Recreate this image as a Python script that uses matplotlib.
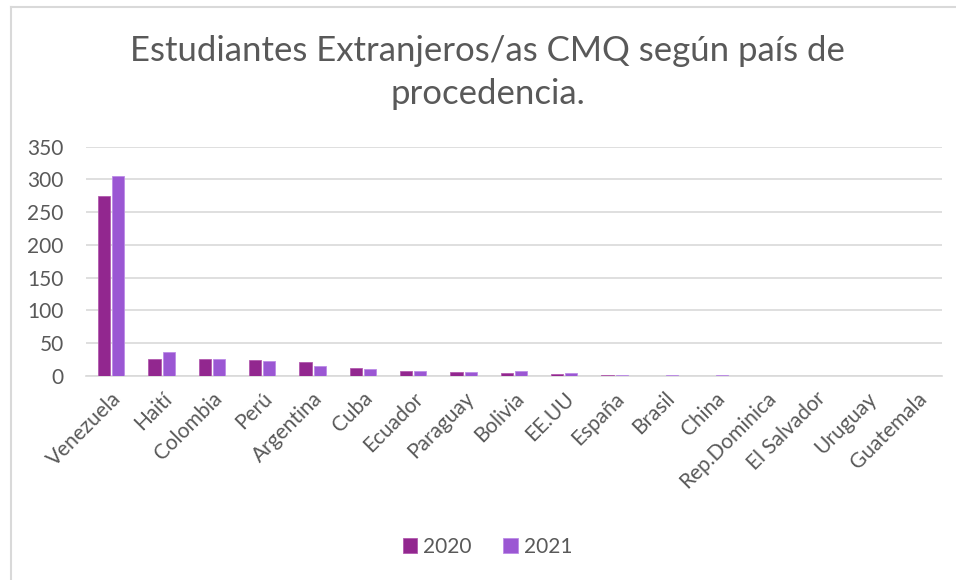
import numpy as np
import matplotlib.pyplot as plt
from matplotlib.lines import Line2D

paises = ["Venezuela", "Haití", "Colombia", "Perú", "Argentina", "Cuba", "Ecuador",
          "Paraguay", "Bolivia", "EE.UU", "España", "Brasil", "China", "Rep.Dominica",
          "El Salvador", "Uruguay", "Guatemala"]
v2020 = [275, 25, 25, 24, 21, 12, 8, 6, 5, 3, 1, 0, 0, 0, 0, 0, 0]
v2021 = [306, 36, 25, 22, 15, 10, 8, 6, 7, 5, 2, 2, 1, 0, 0, 0, 0]
yticks = [0, 50, 100, 150, 200, 250, 300, 350]

plt.rcParams['font.family'] = ['Lato', 'DejaVu Sans']
gris = '#595959'

fig = plt.figure(figsize=(9.56, 5.8), dpi=100)
ax = fig.add_axes([0.09, 0.352, 0.895, 0.395])

x = np.arange(len(paises))
ax.bar(x - 0.14, v2020, width=0.24, color='#92278F', edgecolor='#B25BAF', linewidth=0.6, label='2020', zorder=3)
ax.bar(x + 0.14, v2021, width=0.24, color='#9B57D3', edgecolor='#BC8CE6', linewidth=0.6, label='2021', zorder=3)

ax.set_xlim(-0.5, len(paises) - 0.5)
ax.set_ylim(0, 350)
ax.set_yticks(yticks)
ax.yaxis.grid(True, color='#D9D9D9', linewidth=1.2, zorder=0)
ax.tick_params(axis='both', length=0, labelsize=15, colors=gris)
ax.tick_params(axis='y', pad=16)
ax.tick_params(axis='x', pad=9)
ax.set_xticks(x)
ax.set_xticklabels(paises, rotation=45, ha='right', rotation_mode='anchor')
for s in ['top', 'right', 'left']:
    ax.spines[s].set_visible(False)
ax.spines['bottom'].set_color('#D9D9D9')
ax.spines['bottom'].set_linewidth(1.2)

fig.text(0.51, 0.875, "Estudiantes Extranjeros/as CMQ según país de\nprocedencia.",
         ha='center', va='center', fontsize=25, color=gris, linespacing=1.4)

fig.legend(loc='center', bbox_to_anchor=(0.51, 0.057), ncol=2, frameon=False,
           fontsize=15, labelcolor=gris, handlelength=0.7, handleheight=0.7,
           handletextpad=0.3, columnspacing=1.5)

# marco del gráfico (solo arriba e izquierda visibles)
fig.add_artist(Line2D([11 / 956, 1], [1 - 7 / 580, 1 - 7 / 580], transform=fig.transFigure,
                      color='#D9D9D9', linewidth=1.5))
fig.add_artist(Line2D([11 / 956, 11 / 956], [0, 1 - 7 / 580], transform=fig.transFigure,
                      color='#D9D9D9', linewidth=1.5))

fig.savefig('out.png', dpi=100)
